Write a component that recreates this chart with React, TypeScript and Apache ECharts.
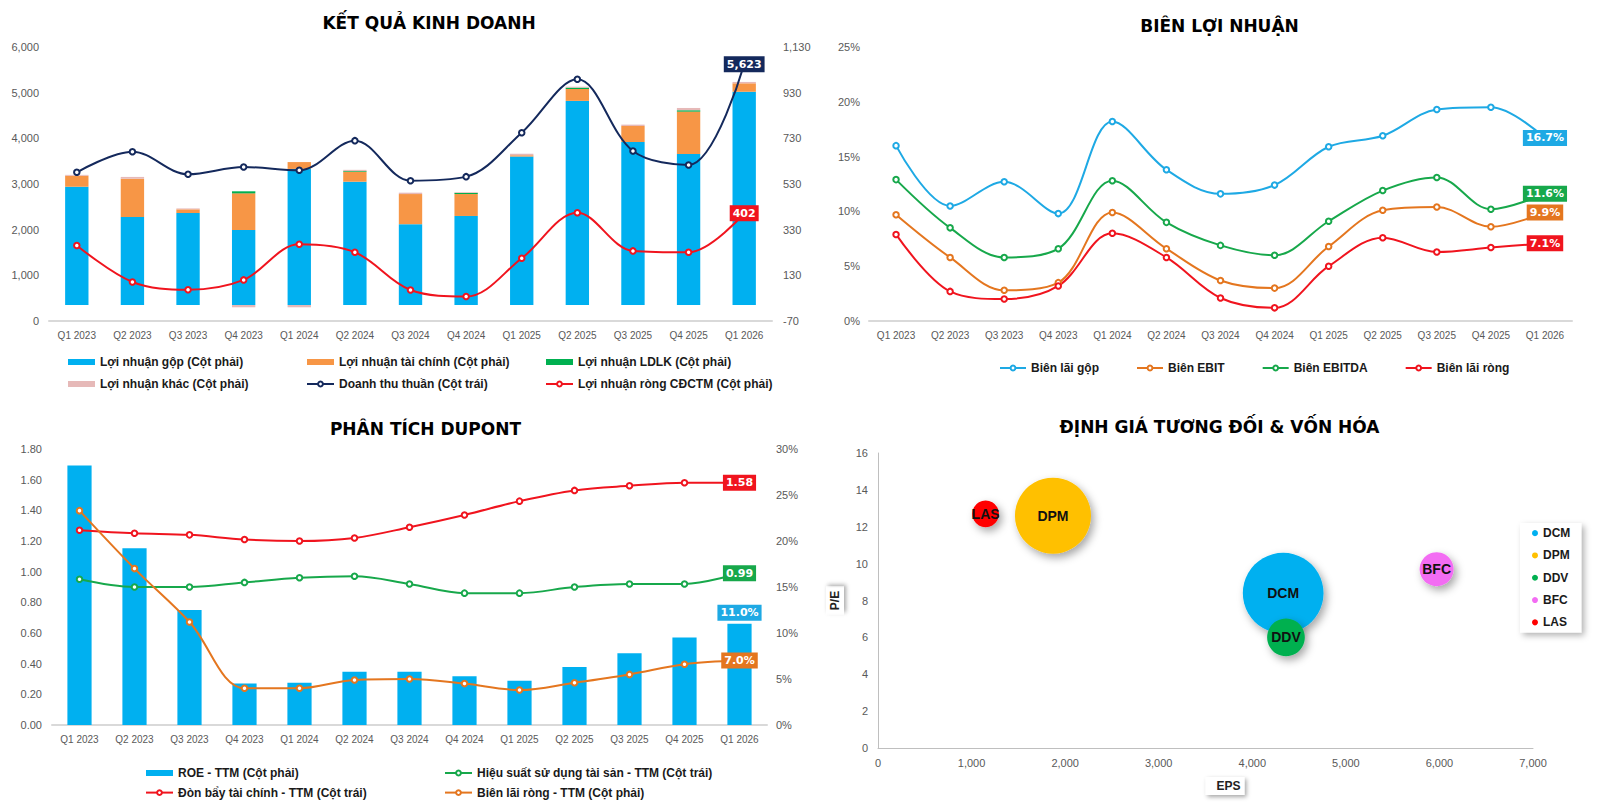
import React, { useEffect, useRef } from 'react';
import * as echarts from 'echarts';

const W = 1600;
const H = 811;
const UI_FONT = '"Liberation Sans", Arial, sans-serif';
const TITLE_FONT = '"DejaVu Sans", Verdana, sans-serif';

const quarters = ['Q1 2023', 'Q2 2023', 'Q3 2023', 'Q4 2023', 'Q1 2024', 'Q2 2024', 'Q3 2024', 'Q4 2024', 'Q1 2025', 'Q2 2025', 'Q3 2025', 'Q4 2025', 'Q1 2026'];

// Kết quả kinh doanh (tỷ đồng)
const loiNhuanGop = [518, 386, 403, 329, 596, 540, 354, 390, 650, 894, 714, 661, 934];
const loiNhuanTaiChinh = [48, 167, 16, 160, 30, 44, 132, 96, 6, 52, 70, 186, 37];
const loiNhuanLDLK = [0, 0, 0, 9, 0, 3, 0, 5, 0, 6, 0, 6, 0];
const loiNhuanKhac = [4, 8, 4, -10, -10, 5, 6, 3, 6, 4, 6, 10, 6];
const doanhThuThuan = [3256, 3708, 3212, 3372, 3300, 3949, 3073, 3161, 4124, 5292, 3723, 3416, 5623];
const loiNhuanRong = [261, 101, 67, 110, 266, 231, 66, 37, 205, 404, 237, 231, 402];
const leftTicks1 = { min: 0, max: 6000, interval: 1000 };
const rightTicks1 = { min: -70, max: 1130, interval: 200 };

// Biên lợi nhuận (%)
const bienLaiGop = [16.0, 10.5, 12.7, 9.8, 18.2, 13.8, 11.6, 12.4, 15.9, 16.9, 19.3, 19.5, 16.7];
const bienEBIT = [9.7, 5.8, 2.8, 3.5, 9.9, 6.6, 3.7, 3.0, 6.8, 10.1, 10.4, 8.6, 9.9];
const bienEBITDA = [12.9, 8.5, 5.8, 6.6, 12.8, 9.0, 6.9, 6.0, 9.1, 11.9, 13.1, 10.2, 11.6];
const bienLaiRong = [7.9, 2.7, 2.0, 3.2, 8.0, 5.8, 2.1, 1.2, 5.0, 7.6, 6.3, 6.7, 7.1];

// Phân tích DuPont
const roeTTM = [28.2, 19.2, 12.5, 4.5, 4.6, 5.8, 5.8, 5.3, 4.8, 6.3, 7.8, 9.5, 11.0];
const donBayTTM = [1.27, 1.25, 1.24, 1.21, 1.2, 1.22, 1.29, 1.37, 1.46, 1.53, 1.56, 1.58, 1.58];
const hieuSuatTTM = [0.95, 0.9, 0.9, 0.93, 0.96, 0.97, 0.92, 0.86, 0.86, 0.9, 0.92, 0.92, 0.99];
const bienRongTTM = [23.3, 17.0, 11.2, 4.0, 4.0, 4.9, 5.0, 4.5, 3.8, 4.6, 5.5, 6.6, 7.0];

// Định giá tương đối & vốn hóa
const tickers = ['DCM', 'DPM', 'DDV', 'BFC', 'LAS'];
const epsValues = [4330, 1870, 4360, 5970, 1150];
const peValues = [8.4, 12.6, 6.0, 9.7, 12.7];
const vonHoa = [19500, 17300, 4250, 3450, 2150];
const bubbleColors = ['#00B0F0', '#FFC000', '#00B050', '#F36CF3', '#FF0000'];

const C = {
  gop: '#00B0F0',
  taiChinh: '#F79646',
  ldlk: '#00B050',
  khac: '#E6B9B8',
  navy: '#14295C',
  red: '#F0141E',
  blue: '#1EA9E4',
  orange: '#E4761F',
  green: '#17A84B',
};

const comma = (v: number) => v.toLocaleString('en-US');
const tickLabel = { color: '#595959', fontFamily: UI_FONT };

const catAxis = (gridIndex: number) => ({
  type: 'category',
  gridIndex,
  data: quarters,
  boundaryGap: true,
  axisLine: { onZero: false, lineStyle: { color: '#D9D9D9', width: 2 } },
  axisTick: { show: false },
  axisLabel: { ...tickLabel, fontSize: 10, margin: 9, interval: 0 },
  splitLine: { show: false },
});

const valAxis = (gridIndex: number, position: string, t: any, formatter: any, margin: number) => ({
  type: 'value',
  gridIndex,
  position,
  min: t.min,
  max: t.max,
  interval: t.interval,
  axisLine: { show: false },
  axisTick: { show: false },
  splitLine: { show: false },
  axisLabel: { ...tickLabel, fontSize: 11, margin, formatter },
});

const barSeries = (name: string, data: number[], color: string, xi: number, yi: number, stack?: string, width = '42%') => ({
  type: 'bar',
  name,
  data,
  xAxisIndex: xi,
  yAxisIndex: yi,
  stack,
  barWidth: width,
  itemStyle: { color },
  z: 2,
});

const lineSeries = (name: string, data: number[], color: string, xi: number, yi: number) => ({
  type: 'line',
  name,
  data,
  xAxisIndex: xi,
  yAxisIndex: yi,
  smooth: 0.35,
  symbol: 'emptyCircle',
  symbolSize: 5.5,
  showAllSymbol: true,
  lineStyle: { color, width: 2 },
  itemStyle: { color, borderWidth: 1.6 },
  z: 3,
});

const legendText = { fontFamily: UI_FONT, fontWeight: 'bold', fontSize: 12, color: '#1a1a1a', lineHeight: 14 };

const legendCol = (left: number, top: number, data: any[], gap: number) => ({
  orient: 'vertical',
  left,
  top,
  padding: 0,
  itemWidth: 27,
  itemHeight: 6,
  itemGap: gap,
  textStyle: legendText,
  data,
});

const nameBox = {
  fontFamily: UI_FONT,
  fontWeight: 'bold',
  fontSize: 12,
  color: '#222',
  backgroundColor: '#fff',
  shadowColor: 'rgba(0,0,0,0.35)',
  shadowBlur: 4,
  shadowOffsetX: 2,
  shadowOffsetY: 2,
};

function buildOption() {
  const N1 = {
    gop: 'Lợi nhuận gộp (Cột phải)',
    tc: 'Lợi nhuận tài chính (Cột phải)',
    ldlk: 'Lợi nhuận LDLK (Cột phải)',
    khac: 'Lợi nhuận khác (Cột phải)',
    dt: 'Doanh thu thuần (Cột trái)',
    lnr: 'Lợi nhuận ròng CĐCTM (Cột phải)',
  };
  const N3 = {
    roe: 'ROE - TTM (Cột phải)',
    hs: 'Hiệu suất sử dụng tài sản - TTM (Cột trái)',
    db: 'Đòn bẩy tài chính - TTM (Cột trái)',
    br: 'Biên lãi ròng - TTM (Cột phải)',
  };

  const bubbleSeries = tickers.map((t, i) => ({
    type: 'scatter',
    name: t,
    xAxisIndex: 3,
    yAxisIndex: 5,
    data: [[epsValues[i], peValues[i], vonHoa[i]]],
    symbolSize: (v: number[]) => Math.sqrt(v[2]) * 0.578,
    itemStyle: {
      color: bubbleColors[i],
      opacity: 1,
      shadowBlur: 8,
      shadowColor: 'rgba(0,0,0,0.35)',
      shadowOffsetX: 3,
      shadowOffsetY: 4,
    },
    label: {
      show: true,
      position: 'inside',
      formatter: t,
      fontFamily: UI_FONT,
      fontWeight: 'bold',
      fontSize: 14,
      color: '#111',
    },
  }));

  return {
    animation: false,
    backgroundColor: '#fff',
    grid: [
      { left: 49, top: 47, width: 723, height: 274 },
      { left: 869, top: 47, width: 703, height: 274 },
      { left: 52, top: 449, width: 715, height: 276 },
      { left: 878, top: 453, width: 655, height: 295 },
    ],
    xAxis: [
      catAxis(0),
      catAxis(1),
      catAxis(2),
      {
        type: 'value',
        gridIndex: 3,
        min: 0,
        max: 7000,
        interval: 1000,
        name: 'EPS',
        nameLocation: 'middle',
        nameGap: 29,
        nameTextStyle: { ...nameBox, align: 'left', padding: [3, 4, 3, 11] },
        axisLine: { show: true, onZero: false, lineStyle: { color: '#BFBFBF', width: 1 } },
        axisTick: { show: false },
        splitLine: { show: false },
        axisLabel: { ...tickLabel, fontSize: 11, margin: 9, formatter: comma },
      },
    ],
    yAxis: [
      valAxis(0, 'left', leftTicks1, comma, 10),
      valAxis(0, 'right', rightTicks1, comma, 11),
      valAxis(1, 'left', { min: 0, max: 25, interval: 5 }, '{value}%', 9),
      valAxis(2, 'left', { min: 0, max: 1.8, interval: 0.2 }, (v: number) => v.toFixed(2), 10),
      valAxis(2, 'right', { min: 0, max: 30, interval: 5 }, '{value}%', 9),
      {
        type: 'value',
        gridIndex: 3,
        min: 0,
        max: 16,
        interval: 2,
        name: 'P/E',
        nameLocation: 'middle',
        nameRotate: 90,
        nameGap: 34,
        nameTextStyle: { ...nameBox, padding: [3, 4] },
        axisLine: { show: true, lineStyle: { color: '#BFBFBF', width: 1 } },
        axisTick: { show: false },
        splitLine: { show: false },
        axisLabel: { ...tickLabel, fontSize: 11, margin: 10 },
      },
    ],
    legend: [
      legendCol(68, 355, [{ name: N1.gop, icon: 'rect' }, { name: N1.khac, icon: 'rect' }], 8),
      legendCol(306, 355, [{ name: N1.tc, icon: 'rect' }, { name: N1.dt }], 8),
      legendCol(545, 355, [{ name: N1.ldlk, icon: 'rect' }, { name: N1.lnr }], 8),
      {
        orient: 'horizontal',
        left: 999,
        top: 361,
        padding: 0,
        itemWidth: 26,
        itemHeight: 6,
        itemGap: 37,
        textStyle: legendText,
        data: ['Biên lãi gộp', 'Biên EBIT', 'Biên EBITDA', 'Biên lãi ròng'],
      },
      legendCol(145, 766, [{ name: N3.roe, icon: 'rect' }, { name: N3.db }], 5.6),
      legendCol(444, 766, [{ name: N3.hs }, { name: N3.br }], 5.6),
      {
        orient: 'vertical',
        left: 1520,
        top: 523,
        padding: [4, 11, 4, 12],
        itemWidth: 6,
        itemHeight: 6,
        itemGap: 10,
        icon: 'circle',
        backgroundColor: '#fff',
        shadowBlur: 6,
        shadowColor: 'rgba(0,0,0,0.3)',
        shadowOffsetX: 3,
        shadowOffsetY: 3,
        textStyle: { ...legendText, lineHeight: 12.3 },
        data: tickers,
      },
    ],
    series: [
      barSeries(N1.gop, loiNhuanGop, C.gop, 0, 1, 'kq'),
      barSeries(N1.tc, loiNhuanTaiChinh, C.taiChinh, 0, 1, 'kq'),
      barSeries(N1.ldlk, loiNhuanLDLK, C.ldlk, 0, 1, 'kq'),
      barSeries(N1.khac, loiNhuanKhac, C.khac, 0, 1, 'kq'),
      lineSeries(N1.dt, doanhThuThuan, C.navy, 0, 0),
      lineSeries(N1.lnr, loiNhuanRong, C.red, 0, 1),
      lineSeries('Biên lãi gộp', bienLaiGop, C.blue, 1, 2),
      lineSeries('Biên EBIT', bienEBIT, C.orange, 1, 2),
      lineSeries('Biên EBITDA', bienEBITDA, C.green, 1, 2),
      lineSeries('Biên lãi ròng', bienLaiRong, C.red, 1, 2),
      barSeries(N3.roe, roeTTM, C.gop, 2, 4, undefined, '44%'),
      lineSeries(N3.hs, hieuSuatTTM, C.green, 2, 3),
      lineSeries(N3.db, donBayTTM, C.red, 2, 3),
      lineSeries(N3.br, bienRongTTM, C.orange, 2, 4),
      ...bubbleSeries,
    ],
  };
}

// Panel titles and the value tags at the end of each series
function buildGraphics(chart: any) {
  const title = (text: string, x: number, y: number) => ({
    type: 'text',
    x,
    y,
    z: 100,
    style: { text, font: `bold 17px ${TITLE_FONT}`, fill: '#000', align: 'center', verticalAlign: 'middle' },
  });
  const last = quarters.length - 1;
  const tag = (seriesIndex: number, values: number[], color: string, fmt: (v: number) => string, dy = 0) => {
    const v = values[last];
    const p = chart.convertToPixel({ seriesIndex }, [last, v]);
    return {
      type: 'text',
      x: p[0],
      y: p[1] + dy,
      z: 100,
      style: {
        text: fmt(v),
        font: `bold 11px ${TITLE_FONT}`,
        fill: '#fff',
        backgroundColor: color,
        padding: [3, 3, 2, 3],
        align: 'center',
        verticalAlign: 'middle',
      },
    };
  };
  const pct = (v: number) => `${v.toFixed(1)}%`;
  return [
    title('KẾT QUẢ KINH DOANH', 429, 22.5),
    title('BIÊN LỢI NHUẬN', 1219.5, 26),
    title('PHÂN TÍCH DUPONT', 425.5, 428.5),
    title('ĐỊNH GIÁ TƯƠNG ĐỐI & VỐN HÓA', 1219.5, 426.5),
    tag(4, doanhThuThuan, C.navy, comma),
    tag(5, loiNhuanRong, C.red, comma),
    tag(6, bienLaiGop, C.blue, pct),
    tag(8, bienEBITDA, C.green, pct),
    tag(7, bienEBIT, C.orange, pct),
    tag(9, bienLaiRong, C.red, pct),
    tag(10, roeTTM, C.blue, pct, -11),
    tag(12, donBayTTM, C.red, (v) => v.toFixed(2)),
    tag(11, hieuSuatTTM, C.green, (v) => v.toFixed(2)),
    tag(13, bienRongTTM, C.orange, pct),
  ];
}

export default function App() {
  const ref = useRef<HTMLDivElement>(null);
  useEffect(() => {
    const chart = echarts.init(ref.current as HTMLDivElement, null, { renderer: 'svg' });
    chart.setOption(buildOption() as any);
    chart.setOption({ graphic: buildGraphics(chart) } as any);
    return () => chart.dispose();
  }, []);
  return (
    <div style={{ position: 'fixed', left: 0, top: 0, width: W, height: H, overflow: 'hidden', background: '#fff' }}>
      <div ref={ref} style={{ width: W, height: H }} />
    </div>
  );
}
